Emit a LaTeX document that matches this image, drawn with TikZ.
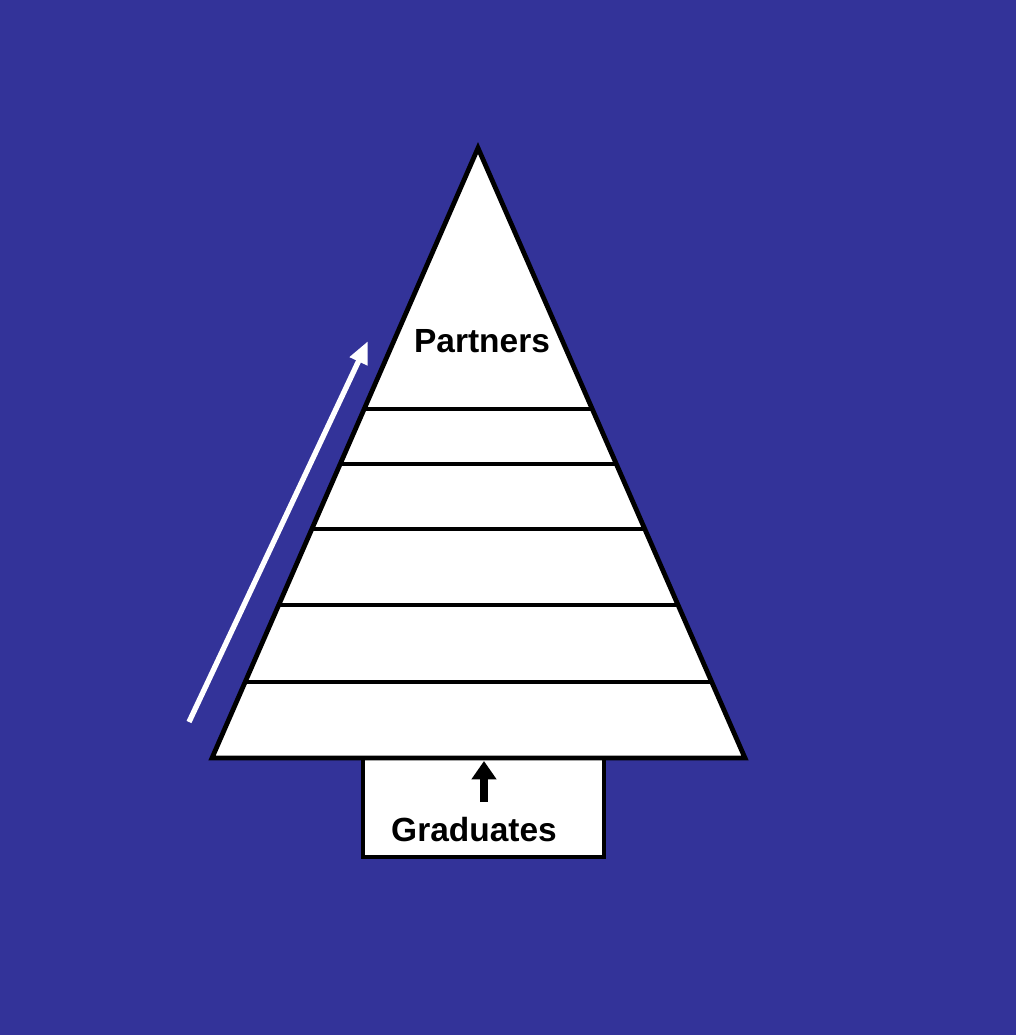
\documentclass[tikz,border=0pt]{standalone}
\usepackage{fontspec}
\setmainfont{Liberation Sans}
\usetikzlibrary{arrows.meta}
\definecolor{bgblue}{HTML}{333399}
\begin{document}
\begin{tikzpicture}[x=0.025cm,y=-0.025cm,
  outline/.style={draw=black,line width=3.4pt,fill=white,line join=miter},
  tier/.style={draw=black,line width=2.8pt},
  lbl/.style={font=\fontsize{23.8}{28}\selectfont\bfseries,text=black,inner sep=0pt},
  uparrow/.style={draw=white,line width=3.8pt,-{Triangle[length=16pt,width=13pt]}},
  smallarrow/.style={draw=black,line width=5pt,-{Triangle[length=13pt,width=17pt]}}]
\useasboundingbox (0,0) rectangle (1016,1035);
\fill[bgblue] (0,0) rectangle (1016,1035);
% trunk
\draw[outline] (363,758) rectangle (604,857);
% tree
\coordinate (apex) at (478,148);
\coordinate (bl) at (212,758);
\coordinate (br) at (745,758);
\draw[outline] (apex) -- (br) -- (bl) -- cycle;
% tiers
\foreach \y in {409,464,529,605,682}{
  \pgfmathsetmacro{\dx}{0.4375*(\y-148)}
  \draw[tier] ({478-\dx},\y) -- ({478+\dx},\y);
}
\node[lbl] (partners) at (482,341) {Partners};
\node[lbl] (graduates) at (474,830) {Graduates};
% arrows
\coordinate (wa1) at (189,722);
\coordinate (wa2) at (368,341);
\draw[uparrow] (wa1) -- (wa2);
\coordinate (sa1) at (484,802);
\coordinate (sa2) at (484,761);
\draw[smallarrow] (sa1) -- (sa2);
\end{tikzpicture}
\end{document}
